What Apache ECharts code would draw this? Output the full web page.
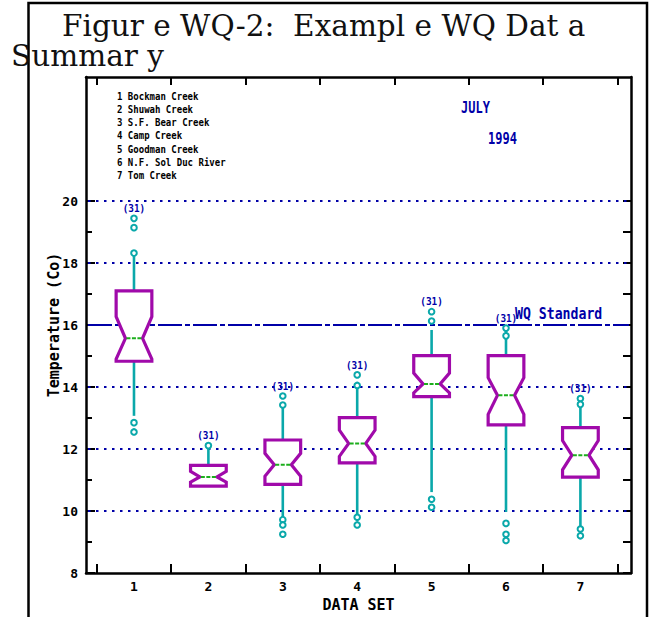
<!DOCTYPE html>
<html>
<head>
<meta charset="utf-8">
<script src="https://cdn.jsdelivr.net/npm/echarts@6/dist/echarts.min.js"></script>
<style>html,body{margin:0;padding:0;background:#fff;}#c{width:649px;height:617px;}</style>
</head>
<body>
<div id="c"></div>
<script>
// ---------- data ----------
const categories = ['1', '2', '3', '4', '5', '6', '7'];
const siteNames = ['1 Bockman Creek', '2 Shuwah Creek', '3 S.F. Bear Creek', '4 Camp Creek',
                   '5 Goodman Creek', '6 N.F. Sol Duc River', '7 Tom Creek'];
const q1        = [14.83, 10.80, 10.86, 11.55, 13.69, 12.78, 11.09];
const q3        = [17.10, 11.47, 12.29, 13.01, 15.01, 15.01, 12.69];
const medians   = [15.57, 11.10, 11.49, 12.18, 14.10, 13.73, 11.80];
const notchLo   = [14.90, 10.93, 11.12, 11.76, 13.81, 13.12, 11.33];
const notchHi   = [16.27, 11.28, 11.86, 12.61, 14.45, 14.30, 12.27];
const whiskerLo = [13.07, 10.80,  9.76,  9.87, 10.61,  9.97,  9.49];
const whiskerHi = [18.32, 12.11, 13.42, 14.03, 15.84, 15.84, 13.44];
const outliers  = [
  [19.44, 19.14, 18.32, 12.85, 12.55],
  [12.11],
  [13.71, 13.42, 9.72, 9.55, 9.25],
  [14.39, 14.05, 9.80, 9.55],
  [16.43, 16.13, 10.38, 10.12],
  [15.90, 15.65, 9.60, 9.25, 9.05],
  [13.63, 13.44, 9.42, 9.20]
];
const counts = [31, 31, 31, 31, 31, 31, 31];
const yTickLabels = [8, 10, 12, 14, 16, 18, 20];
const yMinorTicks = [9, 11, 13, 15, 17, 19];
const yRightTicks = [8, 9, 10, 11, 12, 13, 14, 15, 16, 17, 18, 19, 20];
const xBoundaries = [0.5, 1.5, 2.5, 3.5, 4.5, 5.5, 6.5, 7.5];
const gridValues = [10, 12, 14, 18, 20];
const standardValue = 16;
const standardLabel = 'WQ Standard';
const monthLabel = 'JULY';
const yearLabel = '1994';
const titleLine1 = 'Figur e WQ-2:  Exampl e WQ Dat a';
const titleLine2 = 'Summar y';

// ---------- style ----------
const PURPLE = '#A00AAA', TEAL = '#0AA8AA', GREEN = '#1CAE1C', BLUE = '#0000A8';
const MONO = '"DejaVu Sans Mono", monospace';
const HALF_W = 0.24, NOTCH_W = 0.115;

const chart = echarts.init(document.getElementById('c'), null, {renderer: 'svg'});

const boxData = categories.map((c, i) => [i + 1, q1[i], q3[i], medians[i], notchLo[i], notchHi[i], whiskerLo[i], whiskerHi[i]]);
const outlierData = [];
outliers.forEach((arr, i) => arr.forEach(v => outlierData.push([i + 1, v])));
const countData = categories.map((c, i) => [i + 1, Math.max(whiskerHi[i], ...outliers[i]), counts[i]]);

const axisLineStyle = {color: '#000', width: 2.5};
const option = {
  backgroundColor: '#fff',
  animation: false,
  grid: {left: 86, right: 18, top: 77, bottom: 40, containLabel: false},
  xAxis: [
    {type: 'value', position: 'bottom', min: 0.355, max: 7.68,
     axisLine: {show: true, onZero: false, lineStyle: axisLineStyle},
     axisTick: {show: true, inside: true, length: 9, customValues: xBoundaries, lineStyle: {color: '#000', width: 2}},
     axisLabel: {show: true, customValues: categories.map((c, i) => i + 1), formatter: v => categories[Math.round(v) - 1],
                 color: '#000', fontFamily: MONO, fontWeight: 'bold', fontSize: 13, margin: 7},
     splitLine: {show: false},
     name: 'DATA SET', nameLocation: 'middle', nameGap: 24, nameMoveOverlap: false,
     nameTextStyle: {color: '#000', fontFamily: MONO, fontWeight: 'bold', fontSize: 15}},
    {type: 'value', position: 'top', min: 0.355, max: 7.68,
     axisLine: {show: true, onZero: false, lineStyle: axisLineStyle},
     axisTick: {show: true, inside: true, length: 8, customValues: xBoundaries, lineStyle: {color: '#000', width: 2}},
     axisLabel: {show: false}, splitLine: {show: false}}
  ],
  yAxis: [
    {type: 'value', position: 'left', min: 8, max: 24,
     axisLine: {show: true, onZero: false, lineStyle: axisLineStyle},
     axisTick: {show: true, inside: true, length: 9, customValues: yTickLabels, lineStyle: {color: '#000', width: 2}},
     axisLabel: {show: true, customValues: yTickLabels, color: '#000', fontFamily: MONO, fontWeight: 'bold', fontSize: 13, margin: 8},
     splitLine: {show: false},
     name: 'Temperature (Co)', nameLocation: 'middle', nameRotate: 90, nameGap: 25, nameMoveOverlap: false,
     nameTextStyle: {color: '#000', fontFamily: MONO, fontWeight: 'bold', fontSize: 15}},
    {type: 'value', position: 'left', min: 8, max: 24,
     axisLine: {show: false},
     axisTick: {show: true, inside: true, length: 6, customValues: yMinorTicks, lineStyle: {color: '#000', width: 2}},
     axisLabel: {show: false}, splitLine: {show: false}},
    {type: 'value', position: 'right', min: 8, max: 24,
     axisLine: {show: true, onZero: false, lineStyle: axisLineStyle},
     axisTick: {show: true, inside: true, length: 8, customValues: yRightTicks, lineStyle: {color: '#000', width: 2}},
     axisLabel: {show: false}, splitLine: {show: false}}
  ],
  series: [
    { // dotted grid lines
      type: 'custom', z: 1, silent: true, clip: false,
      data: gridValues.map(v => [v]),
      renderItem: (params, api) => {
        const cs = params.coordSys;
        const y = api.coord([1, api.value(0)])[1];
        return {type: 'line', shape: {x1: cs.x + 2, y1: y, x2: cs.x + cs.width - 2, y2: y},
                style: {stroke: BLUE, lineWidth: 2, lineDash: [2.5, 5.5]}};
      }
    },
    { // WQ standard line
      type: 'custom', z: 2, silent: true, clip: false,
      data: [[standardValue]],
      renderItem: (params, api) => {
        const cs = params.coordSys;
        const y = api.coord([1, api.value(0)])[1];
        return {type: 'group', children: [
          {type: 'line', shape: {x1: cs.x + 2, y1: y, x2: cs.x + cs.width - 2, y2: y},
           style: {stroke: BLUE, lineWidth: 2, lineDash: [24, 3, 5, 3]}},
          {type: 'text', x: cs.x + cs.width - 116, y: y - 11, scaleX: 0.88,
           style: {text: standardLabel, fill: BLUE, font: 'bold 15px ' + MONO, textAlign: 'left', textVerticalAlign: 'middle'}}
        ]};
      }
    },
    { // notched boxes with whiskers
      type: 'custom', z: 3, silent: true, clip: false,
      data: boxData,
      renderItem: (params, api) => {
        const x = api.value(0);
        const P = (dx, v) => api.coord([x + dx, v]);
        const c = P(0, api.value(1))[0];
        const pQ1 = api.value(1), pQ3 = api.value(2), med = api.value(3), nLo = api.value(4), nHi = api.value(5);
        const wLo = api.value(6), wHi = api.value(7);
        const pts = [
          P(-HALF_W, pQ3), P(HALF_W, pQ3), P(HALF_W, nHi), P(NOTCH_W, med), P(HALF_W, nLo),
          P(HALF_W, pQ1), P(-HALF_W, pQ1), P(-HALF_W, nLo), P(-NOTCH_W, med), P(-HALF_W, nHi)
        ];
        const yHi = P(0, wHi)[1], yQ3 = P(0, pQ3)[1], yQ1 = P(0, pQ1)[1], yLo = P(0, wLo)[1];
        const ml = P(-NOTCH_W, med), mr = P(NOTCH_W, med);
        return {type: 'group', children: [
          {type: 'line', shape: {x1: c, y1: yQ3, x2: c, y2: yHi}, style: {stroke: TEAL, lineWidth: 2.6}},
          {type: 'line', shape: {x1: c, y1: yQ1, x2: c, y2: yLo}, style: {stroke: TEAL, lineWidth: 2.6}},
          {type: 'polygon', shape: {points: pts}, style: {fill: '#fff', stroke: PURPLE, lineWidth: 3.2, lineJoin: 'miter'}},
          {type: 'line', shape: {x1: ml[0] + 1, y1: ml[1], x2: mr[0] - 1, y2: mr[1]},
           style: {stroke: GREEN, lineWidth: 2, lineDash: [4, 1.5]}}
        ]};
      }
    },
    { // outliers
      type: 'custom', z: 4, silent: true, clip: false,
      data: outlierData,
      renderItem: (params, api) => {
        const p = api.coord([api.value(0), api.value(1)]);
        return {type: 'circle', shape: {cx: p[0], cy: p[1], r: 2.8},
                style: {fill: '#fff', stroke: TEAL, lineWidth: 2}};
      }
    },
    { // count labels
      type: 'custom', z: 5, silent: true, clip: false,
      data: countData,
      renderItem: (params, api) => {
        const p = api.coord([api.value(0), api.value(1)]);
        return {type: 'text', x: p[0], y: p[1] - 10, scaleX: 0.85,
                style: {text: '(' + api.value(2) + ')', fill: BLUE, font: 'bold 11px ' + MONO,
                        textAlign: 'center', textVerticalAlign: 'middle'}};
      }
    }
  ],
  graphic: [
    {type: 'rect', z: 0, shape: {x: 28.5, y: 3, width: 618.5, height: 640},
     style: {fill: 'none', stroke: '#000', lineWidth: 2.5}},
    {type: 'text', z: 10, x: 62, y: 10.5,
     style: {text: titleLine1, fill: '#111', font: '29.5px "DejaVu Serif", serif', textAlign: 'left', textVerticalAlign: 'top'}},
    {type: 'text', z: 10, x: 11, y: 40.5,
     style: {text: titleLine2, fill: '#111', font: '29.5px "DejaVu Serif", serif', textAlign: 'left', textVerticalAlign: 'top'}},
    ...siteNames.map((t, i) => ({type: 'text', z: 10, x: 117, y: 96 + i * 13.2, scaleX: 0.86,
      style: {text: t, fill: '#000', font: 'bold 10.5px ' + MONO, textAlign: 'left', textVerticalAlign: 'middle'}})),
    {type: 'text', z: 10, x: 461, y: 107, scaleX: 0.8,
     style: {text: monthLabel, fill: BLUE, font: 'bold 15px ' + MONO, textAlign: 'left', textVerticalAlign: 'middle'}},
    {type: 'text', z: 10, x: 488, y: 138, scaleX: 0.8,
     style: {text: yearLabel, fill: BLUE, font: 'bold 15px ' + MONO, textAlign: 'left', textVerticalAlign: 'middle'}}
  ]
};
chart.setOption(option);
</script>
</body>
</html>
